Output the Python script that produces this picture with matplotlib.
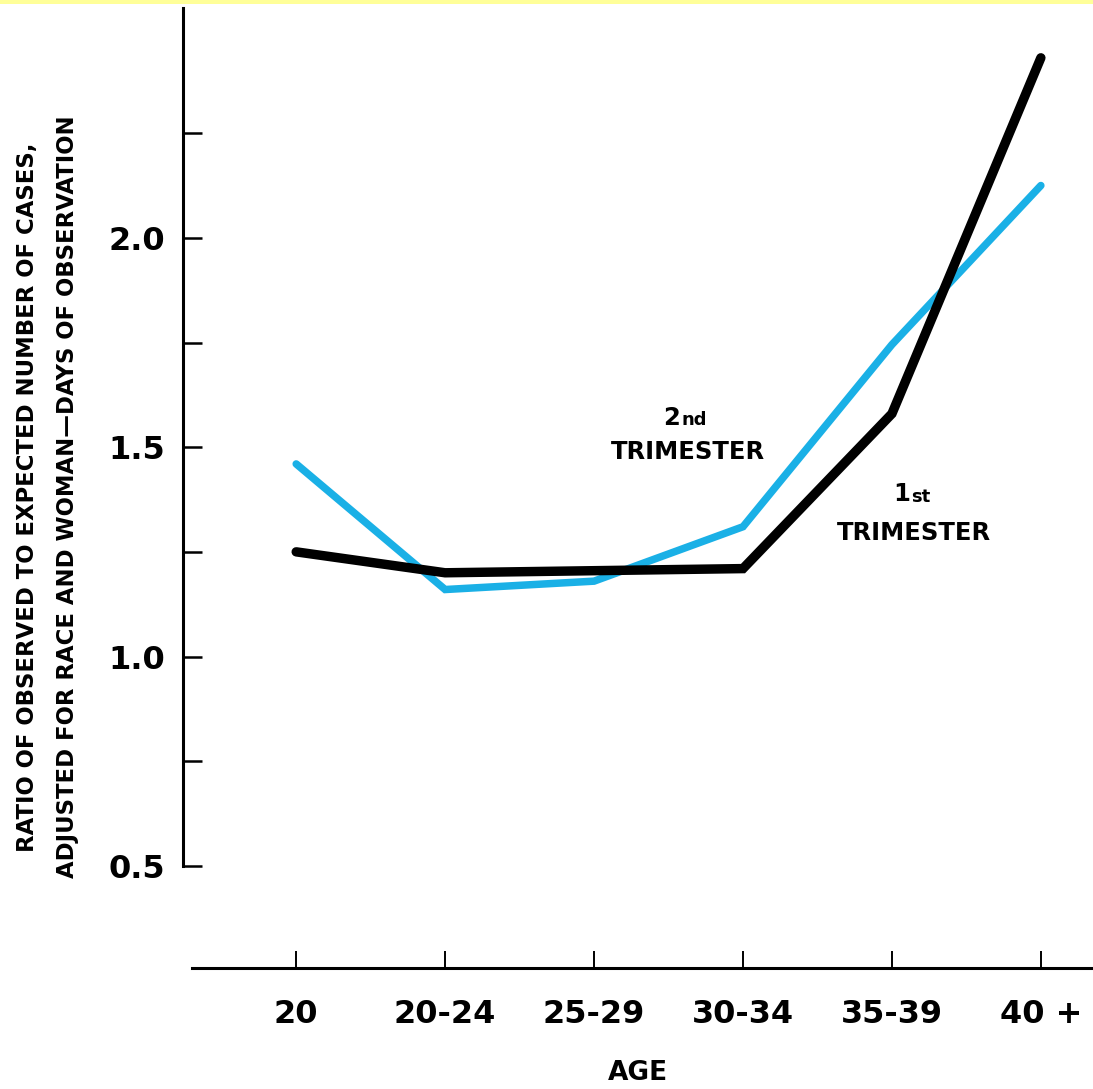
import numpy as np
import matplotlib.pyplot as plt
from matplotlib.patches import Rectangle

# data
age_groups = ['20', '20-24', '25-29', '30-34', '35-39', '40 +']
first_trimester = [1.25, 1.20, 1.205, 1.21, 1.58, 2.43]
second_trimester = [1.46, 1.16, 1.18, 1.31, 1.745, 2.125]
y_ticks = [0.5, 1.0, 1.5, 2.0]
y_minor = [0.75, 1.25, 1.75, 2.25]

plt.rcParams['font.family'] = ['DejaVu Sans']
plt.rcParams['font.weight'] = 'bold'

fig = plt.figure(figsize=(10.93, 10.89), dpi=100)
fig.patches.append(Rectangle((0, 1 - 4 / 1089), 1, 4 / 1089, transform=fig.transFigure,
                             facecolor='#ffff99', edgecolor='none'))
ax = fig.add_axes([183 / 1093, 1 - 968 / 1089, 1 - 183 / 1093, (968 - 8) / 1089])

x = np.arange(len(age_groups))
ax.plot(x, second_trimester, color='#1ab0e6', lw=5.4, solid_capstyle='round', solid_joinstyle='miter')
ax.plot(x, first_trimester, color='black', lw=6.8, solid_capstyle='round', solid_joinstyle='miter')

ax.set_xlim(-0.76, 5.35)
ax.set_ylim(0.256, 2.549)

for s in ['top', 'right']:
    ax.spines[s].set_visible(False)
ax.spines['left'].set_bounds(0.5, 2.549)
ax.spines['left'].set_linewidth(2.2)
ax.spines['bottom'].set_linewidth(2.2)
ax.spines['bottom'].set_bounds(-0.7, 5.35)

ax.set_yticks(y_ticks)
ax.set_yticklabels([f'{v:.1f}' for v in y_ticks])
ax.set_yticks(y_minor, minor=True)
ax.tick_params(axis='y', which='both', direction='in', length=14, width=1.8, pad=13, labelsize=23)
ax.set_xticks(x)
ax.set_xticklabels(age_groups)
ax.tick_params(axis='x', direction='in', length=12, width=1.4, pad=22, labelsize=23)

ax.set_xlabel('AGE', fontsize=19, fontweight='bold', labelpad=22)

fig.text(28 / 1093, 1 - 497 / 1089, 'RATIO OF OBSERVED TO EXPECTED NUMBER OF CASES,',
         rotation=90, ha='center', va='center', fontsize=16.4, fontweight='bold')
fig.text(68 / 1093, 1 - 497 / 1089, 'ADJUSTED FOR RACE AND WOMAN\u2014DAYS OF OBSERVATION',
         rotation=90, ha='center', va='center', fontsize=16.4, fontweight='bold')

# series labels
ax.text(2.575, 1.57, '2', ha='right', va='center', fontsize=17.5, fontweight='bold')
ax.text(2.585, 1.565, 'nd', ha='left', va='center', fontsize=13, fontweight='bold')
ax.text(2.63, 1.489, 'TRIMESTER', ha='center', va='center', fontsize=17.5, fontweight='bold')
ax.text(4.12, 1.387, '1', ha='right', va='center', fontsize=17.5, fontweight='bold')
ax.text(4.13, 1.382, 'st', ha='left', va='center', fontsize=13, fontweight='bold')
ax.text(4.15, 1.295, 'TRIMESTER', ha='center', va='center', fontsize=17.5, fontweight='bold')

plt.savefig('out.png', dpi=100)
